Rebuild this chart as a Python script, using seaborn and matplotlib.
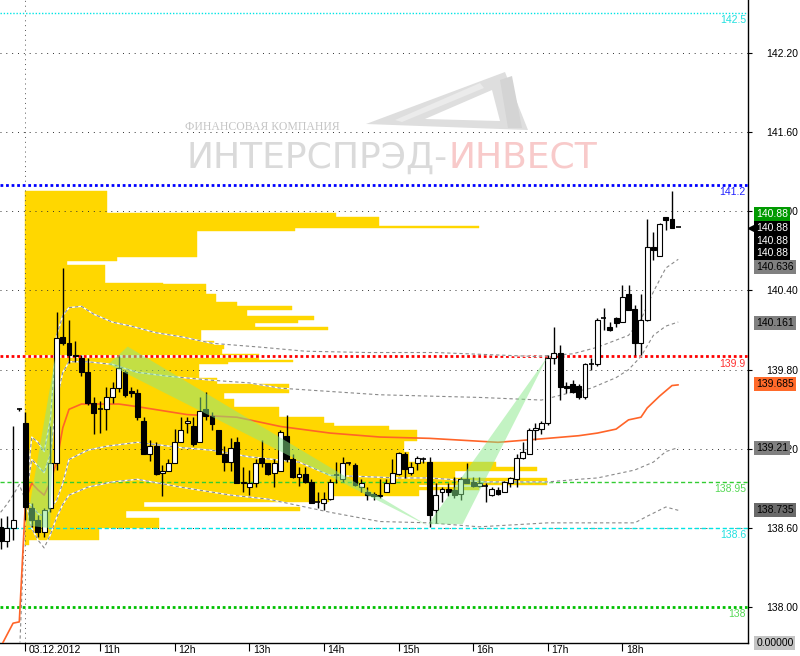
import numpy as np
import matplotlib
matplotlib.use("Agg")
import matplotlib.pyplot as plt
import seaborn as sns
from matplotlib.patches import Polygon
from matplotlib.transforms import ScaledTranslation, blended_transform_factory

# 5 min bars, index 0 = 03.12.2012 10:00 (negative index = previous session)
bar_idx = np.arange(-4, 106)

bar_open = [138.61, 138.50, 138.60, 139.50,
            139.40, 138.75, 138.66, 138.57, 138.75, 139.09, 140.05, 140.00, 139.91, 139.89,
            139.78, 139.55, 139.50, 139.50, 139.59, 139.66, 139.78, 139.64, 139.62, 139.41,
            139.16, 139.22, 139.02, 139.03, 139.09, 139.25, 139.40, 139.37, 139.25, 139.50,
            139.45, 139.34, 139.16, 139.10, 139.25, 138.94, 138.91, 138.94, 139.13, 139.09,
            139.02, 139.03, 139.30, 139.12, 138.99, 139.01, 138.95, 138.80, 138.79, 138.82,
            139.00, 138.97, 139.09, 139.08, 138.91, 138.87, 138.86, 138.84, 138.87, 138.94,
            139.01, 139.16, 139.02, 139.09, 139.12, 139.10, 138.74, 138.87, 138.90, 138.89,
            138.86, 138.97, 138.95, 138.92, 138.92, 138.85, 138.89, 138.87, 138.94, 138.97,
            139.13, 139.16, 139.34, 139.35, 139.40, 139.89, 139.93, 139.68, 139.69, 139.68,
            139.59, 139.84, 139.84, 140.19, 140.12, 140.19, 140.16, 140.37, 140.26, 140.00,
            140.18, 140.73, 140.66, 140.96, 140.94, 140.88]
bar_high = [138.68, 138.69, 139.37, 139.51,
            139.48, 138.79, 138.70, 138.75, 139.37, 140.24, 140.57, 140.18, 140.02, 139.91,
            139.89, 139.59, 139.56, 139.67, 139.71, 139.90, 139.80, 139.67, 139.65, 139.44,
            139.27, 139.25, 139.08, 139.12, 139.35, 139.44, 139.44, 139.44, 139.59, 139.63,
            139.48, 139.34, 139.22, 139.28, 139.29, 139.06, 139.04, 139.12, 139.27, 139.09,
            139.12, 139.34, 139.46, 139.16, 139.06, 139.06, 138.97, 138.87, 138.87, 138.97,
            139.10, 139.14, 139.10, 139.09, 138.97, 138.91, 138.87, 138.97, 138.97, 139.12,
            139.18, 139.18, 139.10, 139.15, 139.14, 139.14, 138.94, 138.91, 138.94, 138.99,
            138.99, 139.09, 138.99, 138.99, 138.94, 138.91, 138.91, 138.96, 138.99, 139.16,
            139.25, 139.36, 139.40, 139.41, 139.91, 140.12, 139.99, 139.71, 139.72, 139.69,
            139.85, 139.89, 140.19, 140.27, 140.16, 140.20, 140.44, 140.44, 140.29, 140.37,
            140.94, 140.84, 140.91, 140.96, 141.15, 140.88]
bar_low = [138.44, 138.46, 138.51, 139.49,
           138.66, 138.61, 138.53, 138.53, 138.72, 139.04, 139.99, 139.85, 139.86, 139.75,
           139.53, 139.31, 139.32, 139.34, 139.55, 139.63, 139.59, 139.59, 139.42, 139.16,
           139.11, 139.00, 138.84, 139.03, 139.09, 139.25, 139.32, 139.22, 139.25, 139.42,
           139.34, 139.16, 139.03, 139.03, 138.94, 138.87, 138.85, 138.91, 139.06, 139.00,
           138.91, 139.03, 139.10, 138.98, 138.92, 138.94, 138.79, 138.75, 138.74, 138.81,
           138.94, 138.95, 139.08, 138.92, 138.87, 138.81, 138.81, 138.83, 138.87, 138.94,
           139.00, 138.98, 139.00, 139.04, 139.09, 138.61, 138.64, 138.80, 138.84, 138.83,
           138.81, 138.94, 138.91, 138.91, 138.80, 138.84, 138.85, 138.87, 138.91, 138.91,
           139.12, 139.16, 139.27, 139.31, 139.38, 139.84, 139.57, 139.62, 139.62, 139.58,
           139.58, 139.80, 139.83, 140.10, 140.09, 140.12, 140.16, 140.25, 139.91, 139.91,
           140.17, 140.63, 140.66, 140.86, 140.87, 140.88]
bar_close = [138.50, 138.60, 138.66, 139.50,
             138.76, 138.66, 138.57, 138.74, 139.09, 140.04, 140.00, 139.91, 139.90, 139.78,
             139.55, 139.47, 139.50, 139.59, 139.66, 139.81, 139.61, 139.62, 139.44, 139.16,
             139.22, 139.01, 139.03, 139.09, 139.25, 139.34, 139.41, 139.24, 139.49, 139.45,
             139.39, 139.16, 139.10, 139.21, 138.94, 138.95, 138.94, 139.09, 139.09, 139.01,
             139.09, 139.33, 139.12, 138.99, 139.01, 138.95, 138.79, 138.80, 138.82, 138.95,
             139.00, 139.09, 139.09, 138.93, 138.94, 138.85, 138.84, 138.85, 138.94, 139.02,
             139.17, 139.05, 139.06, 139.13, 139.12, 138.70, 138.85, 138.90, 138.87, 138.85,
             138.97, 138.94, 138.92, 138.94, 138.92, 138.90, 138.86, 138.95, 138.98, 139.13,
             139.18, 139.34, 139.36, 139.40, 139.89, 139.93, 139.67, 139.66, 139.63, 139.59,
             139.84, 139.84, 140.18, 140.19, 140.10, 140.15, 140.35, 140.25, 140.00, 140.18,
             140.73, 140.71, 140.90, 140.93, 140.87, 140.88]

# VWAP and deviation bands (bar index, price)
vwap_idx = [-4, -3, -2, -1, 0, 1, 2, 3, 4, 5, 6, 7, 9, 15, 18, 26, 34, 41, 49, 57, 65, 76,
            84, 89, 92, 95, 97, 99, 100, 102, 104, 105]
vwap_val = [137.70, 137.79, 137.88, 137.89, 138.81, 138.94, 138.89, 138.85, 138.95, 139.10,
            139.36, 139.50, 139.54, 139.54, 139.52, 139.46, 139.44, 139.37, 139.32, 139.29,
            139.28, 139.25, 139.28, 139.30, 139.32, 139.35, 139.42, 139.44, 139.51, 139.60,
            139.68, 139.685]

up2_idx = [-4, -3, -2, -1, 0, 1, 2, 3, 4, 5, 6, 7, 9, 11, 14, 17, 21, 25, 30, 38, 45, 55, 66,
           82, 88, 92, 97, 99, 101, 103, 105]
up2_val = [138.72, 138.78, 138.85, 138.93, 138.81, 139.29, 139.25, 139.18, 139.42, 140.06,
           140.21, 140.27, 140.28, 140.22, 140.16, 140.13, 140.08, 140.05, 140.00, 139.97,
           139.94, 139.93, 139.93, 139.90, 139.92, 139.97, 140.06, 140.18, 140.39, 140.57,
           140.636]
up1_idx = [0, 1, 2, 3, 4, 5, 6, 7, 10, 14, 18, 23, 30, 36, 41, 57, 73, 83, 88, 91, 95, 97,
           99, 101, 103, 105]
up1_val = [138.81, 139.12, 139.07, 139.02, 139.16, 139.57, 139.78, 139.86, 139.86, 139.84,
           139.78, 139.75, 139.72, 139.70, 139.66, 139.61, 139.59, 139.57, 139.63, 139.66,
           139.74, 139.80, 139.90, 140.06, 140.13, 140.161]
dn1_idx = [-1, 0, 1, 2, 3, 4, 5, 6, 7, 10, 13, 18, 25, 30, 36, 44, 49, 60, 65, 74, 84, 89,
           92, 98, 101, 103, 105]
dn1_val = [137.60, 138.81, 138.77, 138.71, 138.69, 138.75, 138.81, 138.94, 139.12, 139.19,
           139.22, 139.25, 139.21, 139.19, 139.14, 139.10, 139.00, 138.98, 138.98, 138.95,
           138.95, 138.97, 138.98, 139.04, 139.10, 139.18, 139.21]
dn2_idx = [0, 1, 2, 3, 4, 5, 6, 7, 10, 14, 18, 25, 33, 39, 45, 49, 57, 65, 73, 84, 92, 98,
           100, 103, 105]
dn2_val = [138.81, 138.60, 138.51, 138.45, 138.55, 138.68, 138.78, 138.85, 138.91, 138.95,
           138.97, 138.91, 138.85, 138.82, 138.76, 138.72, 138.65, 138.64, 138.61, 138.64,
           138.64, 138.64, 138.69, 138.76, 138.735]

# session volume profile: price bin edges (top -> bottom) and volume per bin
profile_edges = [141.15, 140.99, 140.96, 140.89, 140.87, 140.85, 140.65, 140.62, 140.59,
                 140.46, 140.45, 140.37, 140.31, 140.28, 140.25, 140.21, 140.18, 140.15,
                 140.12, 140.10, 140.02, 139.99, 139.96, 139.92, 139.87, 139.86, 139.84,
                 139.80, 139.74, 139.69, 139.62, 139.58, 139.52, 139.44, 139.40, 139.37,
                 139.34, 139.26, 139.18, 139.10, 139.06, 139.03, 138.98, 138.93, 138.91,
                 138.89, 138.84, 138.80, 138.76, 138.73, 138.68, 138.60, 138.51, 138.47]
profile_vol = [82, 311, 354, 453, 270, 172, 92, 42, 80, 138,
               181, 191, 212, 267, 222, 289, 273, 230, 303, 176,
               189, 199, 197, 234, 268, 203, 174, 174, 192, 264,
               199, 209, 254, 299, 309, 364, 392, 379, 384, 471,
               511, 429, 522, 394, 454, 394, 304, 119, 274, 101,
               134, 74, 4]

# drawn triangles (hour of day, price)
triangles = [
    [(10.01, 138.62), (10.40, 139.90), (10.33, 138.60)],
    [(11.11, 139.84), (11.37, 139.975), (15.42, 138.61)],
    [(15.40, 138.63), (15.86, 138.63), (17.00, 139.90)],
]

level_prices = [142.5, 141.2, 139.9, 138.95, 138.6, 138.0]
level_labels = ["142.5", "141.2", "139.9", "138.95", "138.6", "138"]

tag_text = ["140.88", "140.88", "140.88", "140.88", "140.636", "140.161", "139.685",
            "139.21", "138.735", "0.00000"]

hour_ticks = [10, 11, 12, 13, 14, 15, 16, 17, 18]
hour_labels = ["03.12.2012", "11h", "12h", "13h", "14h", "15h", "16h", "17h", "18h"]

# ---- style / layout ---------------------------------------------------
level_styles = [
    dict(color="#00e5e5", lw=1.0, ls=(0, (1, 1.3)), tc="#20e0e0", under=False),
    dict(color="#0000ff", lw=2.0, ls=(0, (1, 1)), tc="#2020ff", under=True),
    dict(color="#ff0000", lw=2.0, ls=(0, (1, 1)), tc="#ff3030", under=True),
    dict(color="#33cc33", lw=1.0, ls=(0, (3, 2)), tc="#55d855", under=False),
    dict(color="#00e5e5", lw=1.0, ls=(0, (3, 2)), tc="#20e0e0", under=False),
    dict(color="#00c000", lw=2.0, ls=(0, (1, 1)), tc="#55d855", under=True),
]
tag_y = [140.977, 140.874, 140.772, 140.685, 140.575, 140.155, 139.693, 139.208, 138.738, 137.73]
tag_bg = ["#009a00", "#000000", "#000000", "#000000", "#808080", "#808080", "#ff6a2a",
          "#808080", "#6a6a6a", "#c4c4c4"]
tag_fg = ["white", "white", "white", "white", "black", "black", "black", "black", "black", "black"]

W, H = 800, 656
hours_per_px = 1 / 74.6
body_w = 0.066

sns.set_theme(style="white")
plt.rcParams["font.family"] = ["Liberation Sans", "DejaVu Sans"]

fig = plt.figure(figsize=(W / 100, H / 100), dpi=100)
ax = fig.add_axes([0, 13 / H, 748 / W, 643 / H])
ax.set_facecolor("white")

def hours(idx):
    return 10 + np.asarray(idx, dtype=float) / 12

# watermark
def fx(px):
    return px / W

def fy(py):
    return 1 - py / H

logo = [
    ([(366, 124), (505, 72), (528, 130)], "#dedede"),
    ([(425, 119), (492, 90), (500, 121)], "white"),
    ([(395, 120), (480, 83), (484, 88), (402, 122)], "#ebebeb"),
    ([(500, 80), (512, 76), (522, 128), (508, 128)], "#d4d4d4"),
]
for pts, col in logo:
    fig.patches.append(Polygon([(fx(x), fy(y)) for x, y in pts], closed=True,
                               transform=fig.transFigure, fc=col, ec="none", zorder=0))
fig.text(fx(185), fy(130), "ФИНАНСОВАЯ КОМПАНИЯ", fontsize=8.5, color="#c4c4c4",
         family=["Liberation Serif", "DejaVu Serif"], ha="left", va="baseline", zorder=0)
fig.text(fx(186), fy(168), "ИНТЕРСПРЭД-", fontsize=26, color="#dadada",
         family=["Liberation Sans Narrow", "DejaVu Sans"], ha="left", va="baseline", zorder=0)
fig.text(fx(449), fy(168), "ИНВЕСТ", fontsize=26, color="#f8caca",
         family=["Liberation Sans Narrow", "DejaVu Sans"], ha="left", va="baseline", zorder=0)
ax.patch.set_alpha(0)

# volume profile
edges = np.array(profile_edges)
lo, hi = edges[1:], edges[:-1]
ax.barh((lo + hi) / 2, np.array(profile_vol) * hours_per_px, height=hi - lo, left=10.0,
        color="#FFD700", ec="#FFD700", lw=0.3, zorder=1)

# grid and day separator
yticks = np.round(np.arange(138.0, 142.21, 0.6), 2)
for yv in yticks:
    ax.axhline(yv, color="#303030", lw=0.7, ls=(0, (1, 5)), zorder=2)
ax.axvline(10.0, color="#555555", lw=0.7, ls=(0, (1, 4)), zorder=2)

# level lines
for price, st in zip(level_prices, level_styles):
    if st["under"]:
        ax.axhline(price, color="white", lw=st["lw"], zorder=3)
    ax.axhline(price, color=st["color"], lw=st["lw"], ls=st["ls"], zorder=3.1)

# bands and vwap
for idx, vals in [(up2_idx, up2_val), (up1_idx, up1_val), (dn1_idx, dn1_val), (dn2_idx, dn2_val)]:
    tt = hours(idx)
    ax.plot(tt, vals, color="white", lw=1.0, zorder=4)
    sns.lineplot(x=tt, y=vals, ax=ax, color="#8a8a8a", lw=0.8, linestyle=(0, (3, 2.5)),
                 estimator=None, sort=False, zorder=4.1)
sns.lineplot(x=hours(vwap_idx), y=vwap_val, ax=ax, color="#ff6428", lw=1.2,
             estimator=None, sort=False, zorder=4.2)

# candles
t = hours(bar_idx)
o, h, l, c = (np.array(v) for v in (bar_open, bar_high, bar_low, bar_close))
up, dn = c > o + 1e-9, c < o - 1e-9
flat = ~(up | dn)
ax.vlines(t, l, h, color="black", lw=1.0, zorder=5)
ax.bar(t[up], (c - o)[up], bottom=o[up], width=body_w, color="white", ec="black", lw=0.8, zorder=6)
ax.bar(t[dn], (o - c)[dn], bottom=c[dn], width=body_w, color="black", ec="black", lw=0.8, zorder=6)
ax.hlines(o[flat], t[flat] - body_w / 2, t[flat] + body_w / 2, color="black", lw=1.2, zorder=6)

# triangles
for tri in triangles:
    ax.add_patch(Polygon(tri, closed=True, fc="#88e888", ec="none", alpha=0.5, zorder=7))

# level labels
for price, txt, st in zip(level_prices, level_labels, level_styles):
    ax.annotate(txt, xy=(1.0, price), xycoords=("axes fraction", "data"),
                xytext=(-1.5, -1.5), textcoords="offset points", ha="right", va="top",
                fontsize=7.5, color=st["tc"], zorder=8)

# axes / ticks
ax.set_xlim(10 - 25.5 * hours_per_px, 10 + 722.5 * hours_per_px)
ax.set_ylim(137.73, 142.6)
ax.set_xlabel("")
ax.set_ylabel("")
for side in ["left", "top"]:
    ax.spines[side].set_visible(False)
for side in ["right", "bottom"]:
    ax.spines[side].set_visible(True)
    ax.spines[side].set_color("black")
    ax.spines[side].set_linewidth(1.0)

ax.yaxis.tick_right()
ax.set_yticks(yticks)
ax.set_yticklabels([f"{v:.2f}" for v in yticks])
ax.tick_params(axis="y", right=True, left=False, direction="out", length=3, width=0.8,
               pad=10, labelsize=7.5, colors="black")
ax.set_xticks(hour_ticks)
ax.set_xticklabels(hour_labels)
ax.tick_params(axis="x", bottom=True, direction="out", length=6, width=0.8, pad=-4.8,
               labelsize=7.5, colors="black")
shift = ScaledTranslation(2.5 / 72, 0, fig.dpi_scale_trans)
for lab in ax.get_xticklabels():
    lab.set_horizontalalignment("left")
    lab.set_transform(lab.get_transform() + shift)

# price tags on the right scale
tr = blended_transform_factory(ax.transAxes, ax.transData)
for txt, yv, bg, fg in zip(tag_text, tag_y, tag_bg, tag_fg):
    ax.text(1.011, yv, txt, transform=tr, ha="left", va="center", fontsize=7.5, color=fg,
            bbox=dict(boxstyle="square,pad=0.18", fc=bg, ec="none"), clip_on=False, zorder=9)
ax.plot([1.006], [tag_y[1]], transform=tr, marker="<", ms=6, color="black", clip_on=False,
        zorder=9)

fig.savefig("out.png", dpi=100)
